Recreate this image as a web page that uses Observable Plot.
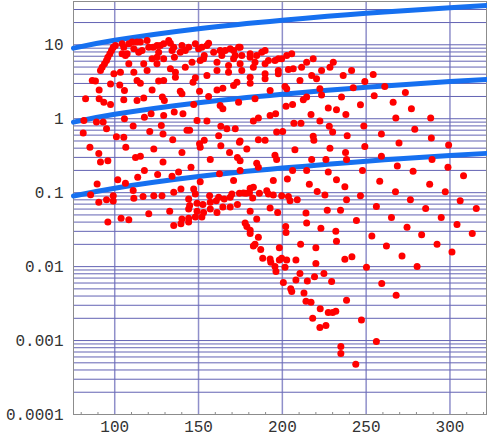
<!DOCTYPE html>
<html><head><meta charset="utf-8">
<script src="https://cdn.jsdelivr.net/npm/d3@7"></script>
<script src="https://cdn.jsdelivr.net/npm/@observablehq/plot@0.6"></script>
<style>body{margin:0;background:#fff}</style>
</head><body><div id="chart"></div>
<script>
// tick values and labels
const xTicks = [100, 150, 200, 250, 300];
const xMinorTicks = [80, 90, 110, 120, 130, 140, 160, 170, 180, 190, 210, 220, 230, 240, 260, 270, 280, 290, 310, 320];
const yTicks = [0.0001, 0.001, 0.01, 0.1, 1, 10];
const yTickLabels = ["0.0001", "0.001", "0.01", "0.1", "1", "10"];

// blue reference curves
const lineX = [75.4, 100, 150, 200, 250, 300, 321.8];
const topLine = [9.0, 11.5, 16.5, 21.5, 26.7, 31.8, 34.0];
const midLine = [0.90, 1.15, 1.65, 2.15, 2.67, 3.18, 3.40];
const lowLine = [0.090, 0.115, 0.165, 0.215, 0.267, 0.318, 0.340];

// red points [x, y]
const dotsTopLeft = [[91.5,4.49],[92.5,4.98],[93.9,5.52],[95.1,6.12],[95.9,6.8],[97.1,7.55],[98.1,8.37],[99.1,9.29],[100.4,9.78],[104.4,10.3],[105.4,9.29],[107.4,7.55],[108.4,10.3],[110.4,10.9],[111.4,8.82],[113.3,10.9],[114.3,7.95],[115.3,10.9],[116.3,8.37],[119.3,11.4],[117.3,5.52],[120.3,9.29],[122.9,9.29],[125.2,9.78],[126.2,7.95],[127.2,9.78],[129.2,6.46],[129.2,10.3],[132.2,11.4],[133.2,10.5],[134.2,8.37],[135.2,9.29],[135.6,6.8],[140.1,9.78],[139.1,7.95],[142.1,8.37],[144.1,9.29],[148.1,10.3],[150,8.82],[152,9.29],[153.4,7.16],[155,9.78],[156,10.5],[159,7.95],[161,5.82],[162.9,8.37],[163.9,7.16],[165.9,8.37],[167.9,5.24],[168.9,8.82],[170.9,8.37],[171.9,7.16],[173.9,9.29],
[104.4,7.55],[106.4,7.16],[108.4,5.52],[122.3,6.46],[125.2,6.8],[151,6.12],[125.2,5.52],[170.9,6.46],
[99.5,4.05],[103.4,4.26],[111.4,4.26],[119.3,4.49],[133.2,4.73],[136.2,4.26],[142.1,4.98],[146.1,5.82],[153,6.46],[155,3.84],[161,4.49],[167.9,4.26],[172.9,3.12],
[86.6,3.29],[88.5,3.24],[97.5,2.96],[103,2.87],[105.8,2.4],[113.3,3.29],[115.3,3.03],[122.3,2.45],[126.2,3.24],[129.2,3.29],[136.2,3.65],[139.1,2.36],[140.1,2.17],[146.7,3.12],[148.1,3.57],[150.6,2.36],[161,2.45],[164.5,2.59],[170.9,2.81],
[82.6,1.86],[90.7,2.45],[90.7,1.86],[93.5,1.67],[97.5,1.56],[105.4,1.8],[113.3,1.76],[117.3,1.9],[128.4,1.96],[129.6,1.76],[147.1,1.56],[156,2.0],[162.9,1.51],[164.5,1.36],[173.9,1.67],
[81.6,0.95],[89.1,0.9],[93.1,0.9],[95.1,0.73],[105.8,1.0],[111,0.8],[117.7,1.05],[121.7,1.17],[129.2,1.11],[135.5,1.23],[140.7,1.17],[143.1,0.7],[149.1,0.95],[155,0.93],[163.3,0.79],[166.9,0.73],[171.9,0.73],
[81.2,0.64],[85.2,0.41],[90.5,0.34],[91.5,0.26],[95.9,0.27],[101,0.57],[105.4,0.56],[106.6,0.41],[112.4,0.3],[115.3,0.31],[120.9,0.67],[123.3,0.39],[127.8,0.81],[128.8,0.62],[128.8,0.26],[134.6,0.52],[140.1,0.35],[144.7,0.7],[150.6,0.46],[151,0.41],[153.4,0.51],[157,0.28],[162,0.59],[163.3,0.43],[168.5,0.35],[173.2,0.3],[174.4,0.48],
[89.5,0.131],[101.8,0.149],[106.4,0.134],[113.7,0.162],[117.7,0.199],[125.6,0.176],[134.2,0.167],[138.1,0.19],[145.5,0.22],[147.1,0.112],[151,0.141],[162.5,0.18],[170.9,0.146],
[85.6,0.094],[90.5,0.074],[95.1,0.08],[99.1,0.091],[99.1,0.077],[111,0.107],[111.4,0.084],[116.9,0.089],[123.3,0.091],[128.2,0.091],[135.2,0.101],[139.5,0.112],[144.1,0.082],[144.7,0.067],[148.1,0.096],[149.1,0.072],[152.6,0.069],[156.6,0.091],[157,0.074],[160.6,0.078],[162,0.087],[165.3,0.082],[168.9,0.087],[169.9,0.096],[174.4,0.098],
[120.3,0.052],[132.8,0.056],[140.1,0.044],[144.1,0.06],[149.1,0.056],[153,0.054],[157,0.06],[161,0.054],[164.5,0.064],[168.9,0.064],[173.2,0.069],
[95.9,0.04],[103.8,0.045],[108.4,0.043],[135.2,0.036],[139.5,0.038],[144.1,0.04],[144.1,0.045],[148.1,0.047],[152,0.047]];

const dotsTopRight = [[174.8,9.29],[175.8,7.16],[174.8,5.52],[175.8,4.49],[180.8,7.55],[180.8,6.8],[184.7,7.16],[187.7,7.95],[189.7,8.37],[183.7,5.82],[182.7,4.98],[189.7,5.52],[191.7,6.12],[195.6,6.12],[197.6,6.46],[199.6,6.46],[202.6,7.16],[205.6,7.55],[214.5,5.82],[218.4,6.46],[211.5,4.98],[206.5,4.73],[203.6,4.63],[230.4,5.82],[228.4,4.98],[223.4,4.49],[217.5,3.84],[220.4,3.46],[210.5,3.29],[197.6,4.49],[197.6,4.05],[189.7,4.05],[189.7,3.46],[180.8,3.65],[180.8,3.03],[236.3,3.84],[241.3,4.49],[254.2,3.96],[249.2,3.19],
[192.7,2.4],[183.7,1.86],[201.6,2.73],[202.6,2.54],[222.4,2.54],[223.4,2.1],[214.5,1.96],[212.5,1.8],[235.3,1.96],[242.3,2.62],[261.1,2.73],[273.4,2.26],[254.8,2.04],[246.6,1.54],[266.1,1.67],[277,1.36],[227.4,1.4],[232.3,1.32],[237.9,1.14],[202.2,1.48],[206.1,1.56],[192.7,1.11],[196,1.17],[217.1,1.14],
[182.7,0.93],[185.7,1.02],[222.4,0.93],[228,0.79],[206.9,0.87],[211.1,0.87],[248.6,0.8],[267.7,1.02],[288.5,1.02],[279,0.72],[230,0.66],[196.6,0.66],[200.2,0.67],[218.4,0.58],[218.8,0.51],[238.7,0.59],[259.1,0.62],[288.9,0.55],[185.7,0.52],[189.7,0.51],[174.8,0.5],[178.8,0.39],[228.4,0.4],[207.5,0.38],[237.7,0.35],[249.2,0.42],[269.6,0.47],[299.2,0.44],
[195.6,0.32],[196.6,0.28],[217.5,0.28],[226,0.28],[238.3,0.28],[259.1,0.31],[174.8,0.27],[184.7,0.25],[185.7,0.22],[268.6,0.23],[289.3,0.28],[298.8,0.22],[278,0.195],[247.8,0.2],[214.5,0.2],[206.1,0.2],[227.4,0.19],[174.8,0.2],
[194.6,0.146],[203,0.153],[232.3,0.15],[258.1,0.143],[287.9,0.13],[308.1,0.17],[182.7,0.118],[180.8,0.115],[176.8,0.099],[178.4,0.098],[180.4,0.1],[182.3,0.085],[186.3,0.098],[190.7,0.106],[191.7,0.096],[194.6,0.093],[199.6,0.091],[203.6,0.089],[204.6,0.078],[208.9,0.08],[216.1,0.13],[220.8,0.104],[225.4,0.093],[237.3,0.12],[238.3,0.08],[246.6,0.091],[267.5,0.103],[276.4,0.08],[297.2,0.103],[306.1,0.078],
[180.8,0.056],[192.7,0.062],[197.2,0.054],[214.1,0.053],[226.8,0.058],[234.7,0.058],[256.1,0.065],[285.5,0.061],[315.7,0.061],[265.1,0.046],[294.8,0.046],[184.7,0.044],[244.2,0.042]];

const dotsBottom = [[177.8,0.039],[178.8,0.035],[180.8,0.031],[180.8,0.028],[185.7,0.025],[183.7,0.02],[182.7,0.019],[187.1,0.017],[188.3,0.013],[192.7,0.0127],[193.1,0.0115],[195.6,0.01],[196.2,0.0086],[198.2,0.018],[198.2,0.0123],[199.6,0.013],[201.6,0.0098],[202.6,0.0123],[200.6,0.0061],[202,0.035],[202.2,0.029],[205,0.005],[205.6,0.0046],[208.1,0.0066],[208.1,0.0123],[210.9,0.02],[210.5,0.0081],[212.9,0.0044],[214.1,0.0034],[214.5,0.039],[214.9,0.0064],[217.1,0.0033],[218.1,0.002],[219.2,0.0073],[220,0.011],[220,0.018],[222.4,0.0015],[222.6,0.0027],[223,0.033],[224.8,0.0081],[226,0.0016],[227.4,0.0024],[229.4,0.0063],[230,0.0024],[231.9,0.0025],[231.9,0.03],[232.3,0.022],[234.9,0.00083],[234.9,0.00067],[237.3,0.0126],[238.3,0.0035],[241.5,0.0136],[243.8,0.00048],[247.2,0.0019],[250.2,0.0098],[253.4,0.026],[256.1,0.00097],[259.3,0.0059],[262.1,0.019],[267.9,0.0041],[271.4,0.0139],[274.4,0.034],[280.4,0.01],[283.1,0.027],[292.3,0.02],[301.2,0.0158],[304.2,0.037],[313.3,0.028]];

const dots = [...dotsTopLeft, ...dotsTopRight, ...dotsBottom];
const curves = [topLine, midLine, lowLine].flatMap((vals, k) =>
  vals.map((v, i) => ({x: lineX[i], y: v, k})));

const yDomain = [0.0001, 38.5];
const yGrid = d3.scaleLog().domain(yDomain).ticks().filter(v => v >= yDomain[0] && v <= yDomain[1]);

const chart = Plot.plot({
  width: 487, height: 436,
  marginLeft: 73, marginRight: 1, marginTop: 1, marginBottom: 22,
  x: {domain: [75.4, 321.8]},
  y: {type: "log", domain: yDomain},
  style: {fontFamily: "Liberation Mono, monospace", fontSize: "16px", color: "#333", background: "#fff"},
  marks: [
    Plot.ruleY(yGrid, {stroke: "#3c3ca0", strokeOpacity: 0.8}),
    Plot.ruleX(xTicks, {stroke: "#6a6ab8", strokeWidth: 1.5, strokeOpacity: 0.75}),
    Plot.frame({stroke: "#8c8c8c"}),
    Plot.axisX(xMinorTicks, {tickSize: 2, dy: -2, text: null, stroke: "#8c8c8c", label: null}),
    Plot.axisX(xTicks, {tickSize: 0, tickPadding: 6, label: null, fill: "#333"}),
    Plot.axisY(yTicks, {tickSize: 0, tickPadding: 10, label: null, fill: "#333",
      tickFormat: d => yTickLabels[yTicks.indexOf(d)]}),
    Plot.line(curves, {x: "x", y: "y", z: "k", stroke: "#1670f0", strokeWidth: 5, curve: "natural"}),
    Plot.dot(dots, {x: d => d[0], y: d => d[1], r: 3.5, fill: "#ff0000", stroke: null})
  ]
});
document.getElementById("chart").appendChild(chart);
</script>
</body></html>
